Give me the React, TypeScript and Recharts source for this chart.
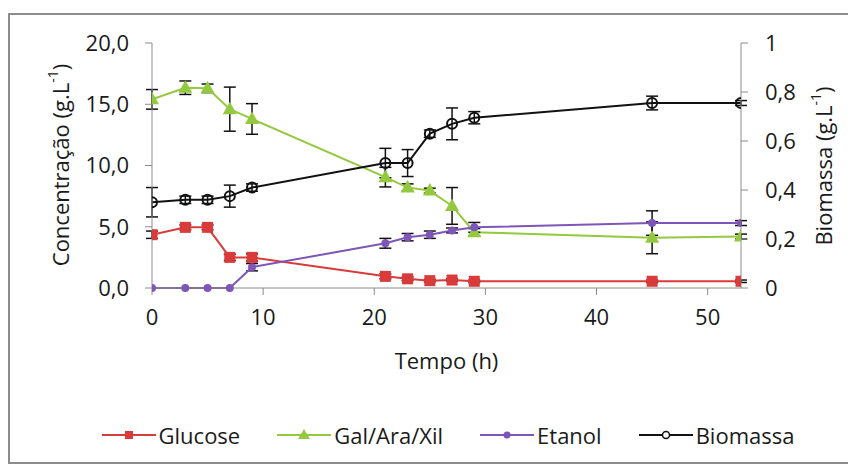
import React from "react"
import { LineChart, Line, XAxis, YAxis, ErrorBar, Label } from "recharts"

const tempo = [0, 3, 5, 7, 9, 21, 23, 25, 27, 29, 45, 53]
const glucose = [4.35, 4.95, 4.95, 2.5, 2.5, 0.95, 0.75, 0.6, 0.65, 0.55, 0.55, 0.55]
const glucoseErr = [0.3, 0.2, 0.2, 0.25, 0.3, 0.2, 0.15, 0.1, 0.1, 0.1, 0.1, 0.1]
const galAraXil = [15.4, 16.35, 16.3, 14.6, 13.8, 9.05, 8.2, 7.95, 6.7, 4.55, 4.1, 4.2]
const galErr = [0.8, 0.55, 0.35, 1.8, 1.25, 0.8, 0.3, 0.2, 1.5, 0.3, 1.3, 0.2]
const etanol = [0, 0, 0, 0, 1.7, 3.65, 4.15, 4.35, 4.7, 4.95, 5.3, 5.3]
const etanolErr = [0, 0, 0, 0, 0.3, 0.4, 0.3, 0.3, 0.2, 0.4, 1.0, 0.2]
const biomassa = [0.35, 0.36, 0.36, 0.375, 0.41, 0.51, 0.51, 0.63, 0.67, 0.695, 0.755, 0.755]
const biomassaErr = [0.06, 0.015, 0.015, 0.045, 0.015, 0.06, 0.055, 0.015, 0.065, 0.025, 0.028, 0.01]

const xTicks = [0, 10, 20, 30, 40, 50]
const leftTicks = [0, 5, 10, 15, 20]
const rightTicks = [0, 0.2, 0.4, 0.6, 0.8, 1]

const data = tempo.map((t, i) => ({
  t,
  glucose: glucose[i],
  glucoseErr: glucoseErr[i],
  gal: galAraXil[i],
  galErr: galErr[i],
  etanol: etanol[i],
  etanolErr: etanolErr[i],
  biomassa: biomassa[i],
  biomassaErr: biomassaErr[i],
}))

const RED = "#d93a3a"
const GREEN = "#94c93f"
const PURPLE = "#7d56b8"
const BLACK = "#111"
const AXIS = "#8c8c8c"
const FONT = "'Open Sans', sans-serif"
const TEXT = "#1a1a1a"

const tickStyle = { fontSize: 22, fill: TEXT, fontFamily: FONT }

function SquareDot(props: any) {
  const { cx, cy } = props
  if (cx == null || cy == null) return null
  return <rect x={cx - 5.5} y={cy - 5.5} width={11} height={11} fill={RED} />
}

function TriangleDot(props: any) {
  const { cx, cy } = props
  if (cx == null || cy == null) return null
  return <polygon points={`${cx},${cy - 7.5} ${cx - 7},${cy + 5} ${cx + 7},${cy + 5}`} fill={GREEN} />
}

function RoundDot(props: any) {
  const { cx, cy } = props
  if (cx == null || cy == null) return null
  return <circle cx={cx} cy={cy} r={4} fill={PURPLE} />
}

function OpenDot(props: any) {
  const { cx, cy } = props
  if (cx == null || cy == null) return null
  return <circle cx={cx} cy={cy} r={5} fill="none" stroke={BLACK} strokeWidth={2} />
}

function LeftTitle() {
  return (
    <text x={52} y={157} transform="rotate(-90 52 157)" textAnchor="middle" dominantBaseline="central"
      fontSize={22} fontFamily={FONT} fill={TEXT}>
      <tspan>Concentração (g.L</tspan>
      <tspan dy={-8} fontSize={14}>-1</tspan>
      <tspan dy={8}>)</tspan>
    </text>
  )
}

function RightTitle() {
  return (
    <text x={815} y={158} transform="rotate(-90 815 158)" textAnchor="middle" dominantBaseline="central"
      fontSize={22} fontFamily={FONT} fill={TEXT}>
      <tspan>Biomassa (g.L</tspan>
      <tspan dy={-8} fontSize={14}>-1</tspan>
      <tspan dy={8}>)</tspan>
    </text>
  )
}

function BottomTitle(props: any) {
  const { viewBox } = props
  return (
    <text x={viewBox.x + viewBox.width / 2} y={361} textAnchor="middle" fontSize={22} fontFamily={FONT} fill={TEXT}>
      Tempo (h)
    </text>
  )
}

const legendItems = [
  { name: "Glucose", color: RED, marker: "square" },
  { name: "Gal/Ara/Xil", color: GREEN, marker: "triangle" },
  { name: "Etanol", color: PURPLE, marker: "dot" },
  { name: "Biomassa", color: BLACK, marker: "open" },
]

function LegendMarker({ color, marker }: { color: string; marker: string }) {
  return (
    <svg width={54} height={16} style={{ display: "block" }}>
      <line x1={0} y1={8} x2={54} y2={8} stroke={color} strokeWidth={2} />
      {marker === "square" && <rect x={23} y={4} width={8} height={8} fill={color} />}
      {marker === "triangle" && <polygon points="27,2 21,12 33,12" fill={color} />}
      {marker === "dot" && <circle cx={27} cy={8} r={3.5} fill={color} />}
      {marker === "open" && <circle cx={27} cy={8} r={3.5} fill="white" stroke={color} strokeWidth={1.5} />}
    </svg>
  )
}

export default function App() {
  return (
    <div style={{ position: "relative", width: 848, height: 457, overflow: "hidden" }}>
      <div
        style={{
          position: "absolute",
          left: 0,
          top: 5,
          width: 900,
          height: 447,
          border: "2px solid #8c8c8c",
          borderRight: "none",
        }}
      />
      <LineChart
        width={848}
        height={457}
        data={data}
        margin={{ top: 35, right: 0, bottom: 0, left: 0 }}
        style={{ position: "absolute", left: 0, top: 0 }}
      >
        <XAxis
          dataKey="t"
          type="number"
          domain={[0, 53]}
          ticks={xTicks}
          allowDataOverflow
          height={177}
          tickSize={7}
          tickMargin={14}
          stroke={AXIS}
          tick={tickStyle}
          label={<Label content={<BottomTitle />} />}
        />
        <YAxis
          yAxisId="left"
          domain={[0, 20]}
          ticks={leftTicks}
          width={144}
          tickSize={7}
          tickMargin={16}
          stroke={AXIS}
          tick={tickStyle}
          tickFormatter={(v: number) => v.toFixed(1).replace(".", ",")}
          label={<Label content={<LeftTitle />} />}
        />
        <YAxis
          yAxisId="right"
          orientation="right"
          domain={[0, 1]}
          ticks={rightTicks}
          width={115}
          tickSize={7}
          tickMargin={17}
          stroke={AXIS}
          tick={tickStyle}
          tickFormatter={(v: number) => String(v).replace(".", ",")}
          label={<Label content={<RightTitle />} />}
        />
        <Line yAxisId="left" type="linear" dataKey="glucose" stroke={RED} strokeWidth={2}
          dot={<SquareDot />} activeDot={false} isAnimationActive={false}>
          <ErrorBar dataKey="glucoseErr" direction="y" width={6} stroke={BLACK} strokeWidth={1.5} />
        </Line>
        <Line yAxisId="left" type="linear" dataKey="gal" stroke={GREEN} strokeWidth={2}
          dot={<TriangleDot />} activeDot={false} isAnimationActive={false}>
          <ErrorBar dataKey="galErr" direction="y" width={6} stroke={BLACK} strokeWidth={1.5} />
        </Line>
        <Line yAxisId="left" type="linear" dataKey="etanol" stroke={PURPLE} strokeWidth={2}
          dot={<RoundDot />} activeDot={false} isAnimationActive={false}>
          <ErrorBar dataKey="etanolErr" direction="y" width={6} stroke={BLACK} strokeWidth={1.5} />
        </Line>
        <Line yAxisId="right" type="linear" dataKey="biomassa" stroke={BLACK} strokeWidth={2}
          dot={<OpenDot />} activeDot={false} isAnimationActive={false}>
          <ErrorBar dataKey="biomassaErr" direction="y" width={6} stroke={BLACK} strokeWidth={1.5} />
        </Line>
      </LineChart>
      <div
        style={{
          position: "absolute",
          left: 0,
          top: 414,
          width: 880,
          display: "flex",
          justifyContent: "center",
          gap: 37,
          fontFamily: FONT,
          fontSize: 22,
          color: TEXT,
          lineHeight: "26px",
        }}
      >
        {legendItems.map((it) => (
          <div key={it.name} style={{ display: "flex", alignItems: "center", gap: 3 }}>
            <LegendMarker color={it.color} marker={it.marker} />
            <span>{it.name}</span>
          </div>
        ))}
      </div>
    </div>
  )
}
